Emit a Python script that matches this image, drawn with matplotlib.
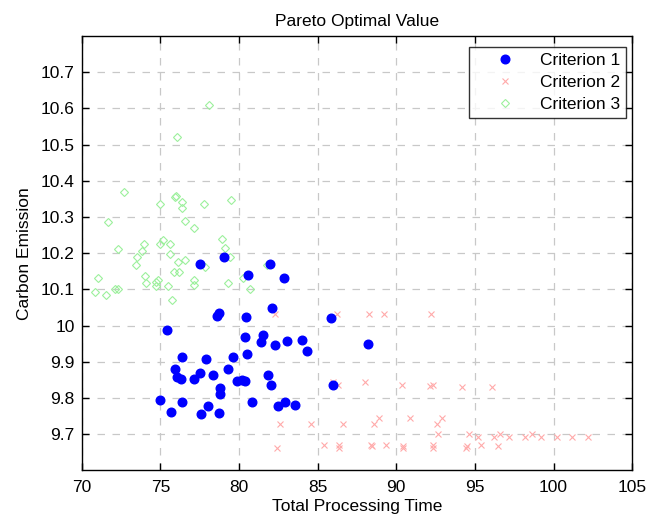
import matplotlib
matplotlib.use('Agg')
from matplotlib import pyplot as plt

# Criterion 1 (blue dots)
c1_time = [79.04, 77.51, 81.96, 80.57, 82.85, 82.09, 78.74, 78.61, 80.44, 85.84,
           75.44, 80.38, 81.54, 81.39, 82.30, 83.06, 83.98, 84.32, 80.50, 76.39,
           77.88, 79.61, 75.90, 79.31, 77.51, 76.03, 76.33, 77.15, 78.34, 79.85,
           80.17, 80.36, 81.82, 82.03, 85.99, 78.80, 78.77, 74.95, 76.39, 80.84,
           82.94, 83.55, 82.45, 78.00, 75.69, 77.58, 78.74, 88.21]
c1_carbon = [10.190, 10.169, 10.169, 10.139, 10.130, 10.048, 10.034, 10.025, 10.024, 10.021,
             9.988, 9.967, 9.974, 9.955, 9.946, 9.958, 9.961, 9.931, 9.922, 9.913,
             9.908, 9.913, 9.880, 9.880, 9.868, 9.857, 9.851, 9.853, 9.863, 9.847,
             9.850, 9.847, 9.863, 9.835, 9.835, 9.827, 9.811, 9.793, 9.789, 9.789,
             9.789, 9.781, 9.778, 9.778, 9.760, 9.756, 9.759, 9.949]

# Criterion 2 (red crosses)
c2_time = [86.24, 88.26, 89.23, 92.22, 82.28, 85.95, 86.31, 87.98, 90.34, 92.16,
           92.35, 94.17, 96.10, 84.57, 86.58, 88.60, 88.87, 90.88, 92.92, 92.56,
           82.60, 92.63, 94.64, 95.21, 96.19, 96.59, 97.16, 98.20, 98.60, 99.17,
           100.21, 101.18, 102.16, 85.40, 86.37, 86.37, 88.39, 88.45, 89.36, 90.44,
           90.44, 92.35, 92.35, 94.40, 94.51, 95.40, 96.46, 82.39]
c2_carbon = [10.033, 10.033, 10.033, 10.033, 10.033, 9.844, 9.837, 9.844, 9.837, 9.832,
             9.837, 9.830, 9.830, 9.728, 9.728, 9.728, 9.745, 9.745, 9.745, 9.728,
             9.728, 9.701, 9.701, 9.692, 9.692, 9.701, 9.692, 9.692, 9.701, 9.692,
             9.692, 9.692, 9.692, 9.671, 9.671, 9.661, 9.671, 9.667, 9.671, 9.667,
             9.661, 9.671, 9.661, 9.661, 9.667, 9.671, 9.667, 9.661]

# Criterion 3 (green diamonds)
c3_time = [78.09, 76.07, 72.68, 75.93, 76.02, 76.37, 76.37, 74.97, 77.75, 79.49,
           76.58, 77.13, 71.69, 78.93, 79.08, 79.44, 75.18, 74.97, 75.61, 75.61,
           73.93, 73.81, 73.53, 73.45, 72.32, 76.13, 76.58, 77.81, 75.88, 76.18,
           74.02, 74.08, 77.17, 77.13, 74.84, 74.70, 74.70, 75.50, 71.01, 70.86,
           71.56, 72.11, 72.32, 75.75, 79.27, 80.23, 80.69, 81.75]
c3_carbon = [10.610, 10.520, 10.370, 10.354, 10.358, 10.340, 10.325, 10.336, 10.336, 10.346,
             10.290, 10.270, 10.285, 10.240, 10.215, 10.190, 10.236, 10.225, 10.225, 10.198,
             10.225, 10.206, 10.190, 10.167, 10.212, 10.175, 10.181, 10.161, 10.147, 10.147,
             10.138, 10.117, 10.126, 10.112, 10.126, 10.120, 10.110, 10.110, 10.130, 10.093,
             10.083, 10.101, 10.101, 10.071, 10.117, 10.131, 10.100, 10.167]

x_ticks = [70, 75, 80, 85, 90, 95, 100, 105]
y_ticks = [9.7, 9.8, 9.9, 10.0, 10.1, 10.2, 10.3, 10.4, 10.5, 10.6, 10.7]
y_labels = ['9.7', '9.8', '9.9', '10', '10.1', '10.2', '10.3', '10.4', '10.5', '10.6', '10.7']

plt.rcParams['font.family'] = ['Liberation Sans', 'DejaVu Sans']
fs = 12.5

fig = plt.figure(figsize=(6.59, 5.17), dpi=100)
ax = fig.add_axes([0.124, 0.0903, 0.8354, 0.8401])

ax.plot(c1_time, c1_carbon, 'o', color='#0000ff', markersize=6.2, label='Criterion 1', zorder=3)
ax.plot(c2_time, c2_carbon, 'x', color='#ffaaaa', markersize=4.3, markeredgewidth=0.8,
        label='Criterion 2', zorder=2)
ax.plot(c3_time, c3_carbon, 'D', markerfacecolor='none', markeredgecolor='#9cf09c',
        markersize=4, markeredgewidth=0.8, label='Criterion 3', zorder=2)

# axes, ticks (matlab look)
ax.set_xlim(70, 105)
ax.set_ylim(9.6, 10.8)
ax.set_xticks(x_ticks)
ax.set_yticks(y_ticks)
ax.set_yticklabels(y_labels)
ax.tick_params(direction='in', top=True, right=True, length=5, width=1,
               labelsize=fs, color='black')
ax.tick_params(axis='x', pad=7)
ax.tick_params(axis='y', pad=5)
for s in ax.spines.values():
    s.set_linewidth(1)
ax.grid(True, linestyle=(0, (6, 6)), color='#c8c8c8', linewidth=0.9)
ax.set_axisbelow(True)

ax.set_title('Pareto Optimal Value', fontsize=fs, pad=7)
ax.set_xlabel('Total Processing Time', fontsize=fs, labelpad=3)
ax.set_ylabel('Carbon Emission', fontsize=fs, labelpad=6)

leg = ax.legend(loc='upper right', fontsize=fs, frameon=True, fancybox=False,
                edgecolor='black', borderpad=0.35, labelspacing=0.38,
                handlelength=3.4, handletextpad=0.3, borderaxespad=0,
                bbox_to_anchor=(0.9886, 0.9747))
leg.get_frame().set_linewidth(1)

fig.savefig('out.png', dpi=100)
